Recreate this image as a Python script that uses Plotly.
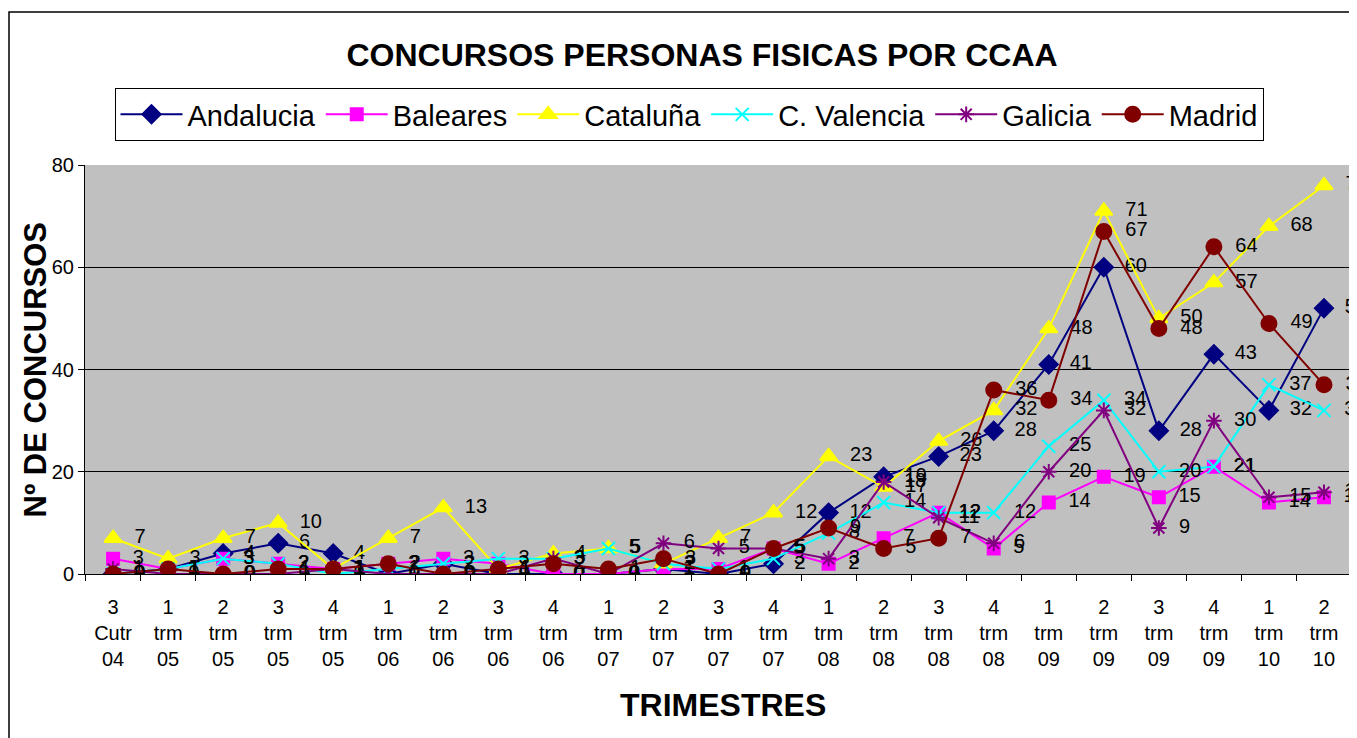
import plotly.graph_objects as go

trimestres = [
    "3<br>Cutr<br>04", "1<br>trm<br>05", "2<br>trm<br>05", "3<br>trm<br>05", "4<br>trm<br>05",
    "1<br>trm<br>06", "2<br>trm<br>06", "3<br>trm<br>06", "4<br>trm<br>06",
    "1<br>trm<br>07", "2<br>trm<br>07", "3<br>trm<br>07", "4<br>trm<br>07",
    "1<br>trm<br>08", "2<br>trm<br>08", "3<br>trm<br>08", "4<br>trm<br>08",
    "1<br>trm<br>09", "2<br>trm<br>09", "3<br>trm<br>09", "4<br>trm<br>09",
    "1<br>trm<br>10", "2<br>trm<br>10",
]

andalucia = [0, 1, 4, 6, 4, 0, 2, 0, 0, 0, 1, 0, 2, 12, 19, 23, 28, 41, 60, 28, 43, 32, 52]
baleares = [3, 1, 3, 2, 1, 2, 3, 2, 0, 0, 1, 1, 5, 2, 7, 12, 5, 14, 19, 15, 21, 14, 15]
cataluna = [7, 3, 7, 10, 1, 7, 13, 1, 4, 5, 2, 7, 12, 23, 17, 26, 32, 48, 71, 50, 57, 68, 76]
valencia = [0, 1, 3, 2, 0, 1, 2, 3, 3, 5, 2, 1, 3, 8, 14, 12, 12, 25, 34, 20, 21, 37, 32]
galicia = [1, 0, 0, 0, 1, 0, 0, 0, 3, 0, 6, 5, 5, 3, 18, 11, 6, 20, 32, 9, 30, 15, 16]
madrid = [0, 1, 0, 1, 1, 2, 0, 1, 2, 1, 3, 0, 5, 9, 5, 7, 36, 34, 67, 48, 64, 49, 37]

series = [
    ("Andalucia", andalucia, "#000080", "diamond", 14),
    ("Baleares", baleares, "#FF00FF", "square", 12),
    ("Cataluña", cataluna, "#FFFF00", "triangle-up", 15),
    ("C. Valencia", valencia, "#00FFFF", "x-thin-open", 13),
    ("Galicia", galicia, "#800080", "asterisk-open", 13),
    ("Madrid", madrid, "#800000", "circle", 15),
]

# page has an 8px body margin, so figure coords = page coords - 8
W, H = 1349, 730
L, T, B = 77, 157, 164
PW, PH = W - L, H - T - B

fig = go.Figure()
for name, vals, color, symbol, size in series:
    fig.add_trace(go.Scatter(
        x=trimestres, y=vals, name=name,
        mode="lines+markers+text",
        text=["\u00a0\u00a0" + str(v) for v in vals],
        textposition="middle right",
        textfont=dict(family="Arial, Liberation Sans", size=20, color="black"),
        line=dict(color=color, width=2),
        marker=dict(symbol=symbol, size=size, color=color,
                    line=dict(color=color, width=2)),
    ))

fig.update_layout(
    width=W, height=H,
    margin=dict(l=L, r=0, t=T, b=B),
    paper_bgcolor="white",
    plot_bgcolor="#C0C0C0",
    font=dict(family="Arial, Liberation Sans", color="black"),
    title=dict(text="<b>CONCURSOS PERSONAS FISICAS POR CCAA</b>",
               x=694 / W, xanchor="center", y=1 - 47 / H, yanchor="middle",
               font=dict(size=32)),
    showlegend=True,
    legend=dict(orientation="h", x=(681 - L) / PW, xanchor="center",
                y=(H - B - 80) / PH, yanchor="top",
                bordercolor="black", borderwidth=1, bgcolor="white",
                font=dict(size=29), itemwidth=62, tracegroupgap=0),
    xaxis=dict(type="category", range=[-0.51, 22.6],
               showline=True, linecolor="black", linewidth=1,
               ticks="outside", tickson="boundaries", ticklen=6, tickcolor="black",
               tickfont=dict(size=20), ticklabelstandoff=15, showgrid=False),
    yaxis=dict(range=[0, 80], dtick=20, showline=True, linecolor="black", linewidth=1,
               ticks="outside", ticklen=6, tickcolor="black",
               showgrid=True, gridcolor="black", gridwidth=1,
               tickfont=dict(size=20), zeroline=False),
)

fig.add_annotation(text="<b>Nº DE CONCURSOS</b>", xref="paper", yref="paper",
                   x=(27 - L) / PW, y=0.5, textangle=-90, showarrow=False,
                   font=dict(size=31), xanchor="center", yanchor="middle")
fig.add_annotation(text="<b>TRIMESTRES</b>", xref="paper", yref="paper",
                   x=(715 - L) / PW, y=(H - B - 697) / PH, showarrow=False,
                   font=dict(size=32), xanchor="center", yanchor="middle")

fig.add_shape(type="rect", xref="paper", yref="paper",
              x0=(1 - L) / PW, x1=1.2, y0=-0.6, y1=(H - B - 4) / PH,
              line=dict(color="black", width=1.5), layer="below")

fig.write_html("out.html")
